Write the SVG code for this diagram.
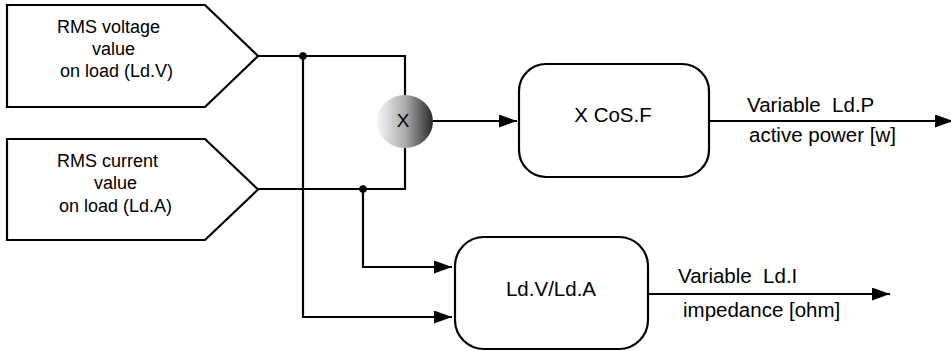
<svg xmlns="http://www.w3.org/2000/svg" width="951" height="351" viewBox="0 0 951 351">
<style>
.shape{fill:#fff;stroke:#000;stroke-width:2.2;stroke-linejoin:miter}
.wire{fill:none;stroke:#000;stroke-width:2.2}
.t{font-family:"Liberation Sans",Arial,sans-serif;fill:#000;white-space:pre}
.in{font-size:18px}
.box{font-size:20.5px;text-anchor:middle}
.lbl{font-size:20.5px}
</style>
<defs>
<marker id="arr" markerUnits="userSpaceOnUse" markerWidth="19" markerHeight="13" refX="18" refY="6.5" orient="auto">
<path d="M0,0 L18,6.5 L0,13 Z" fill="#000"/>
</marker>
<linearGradient id="ball" x1="0" y1="0" x2="1" y2="0">
<stop offset="0" stop-color="#f6f6f6"/>
<stop offset="0.5" stop-color="#ababab"/>
<stop offset="1" stop-color="#2a2a2a"/>
</linearGradient>
</defs>
<g id="connectors">
<path class="wire" d="M258,56 H405 V95"/>
<path class="wire" d="M258,189 H405 V148"/>
<path class="wire" d="M303,56 V317 H452" marker-end="url(#arr)"/>
<path class="wire" d="M363,189 V267 H452" marker-end="url(#arr)"/>
<path class="wire" d="M433,121 H517" marker-end="url(#arr)"/>
<path class="wire" d="M709,121 H953" marker-end="url(#arr)"/>
<path class="wire" d="M648,294 H890" marker-end="url(#arr)"/>
<circle cx="303" cy="56" r="3.8" fill="#000"/>
<circle cx="363" cy="189" r="3.8" fill="#000"/>
<text class="t lbl" x="747" y="112" xml:space="preserve">Variable  Ld.P</text>
<text class="t lbl" x="749" y="142">active power [w]</text>
<text class="t lbl" x="678" y="283" xml:space="preserve">Variable  Ld.I</text>
<text class="t lbl" x="683" y="317">impedance [ohm]</text>
</g>
<g id="voltage">
<polygon class="shape" points="7,5 205,5 258,56 205,107 7,107"/>
<text class="t in" x="57" y="33">RMS voltage</text>
<text class="t in" x="92" y="55">value</text>
<text class="t in" x="60" y="77">on load (Ld.V)</text>
</g>
<g id="current">
<polygon class="shape" points="7,139 205,139 258,189.5 205,240 7,240"/>
<text class="t in" x="57" y="167">RMS current</text>
<text class="t in" x="94" y="189">value</text>
<text class="t in" x="59" y="212">on load (Ld.A)</text>
</g>
<g id="multiply">
<ellipse cx="405" cy="121.5" rx="28" ry="26.5" fill="url(#ball)"/>
<text class="t" x="403" y="127" font-size="19" text-anchor="middle">X</text>
</g>
<g id="cosf">
<rect class="shape" x="519" y="64" width="190" height="113" rx="27" ry="27"/>
<text class="t box" x="613" y="122">X CoS.F</text>
</g>
<g id="impedance">
<rect class="shape" x="455" y="237" width="193" height="112" rx="29" ry="29"/>
<text class="t box" x="551" y="296">Ld.V/Ld.A</text>
</g>
</svg>
